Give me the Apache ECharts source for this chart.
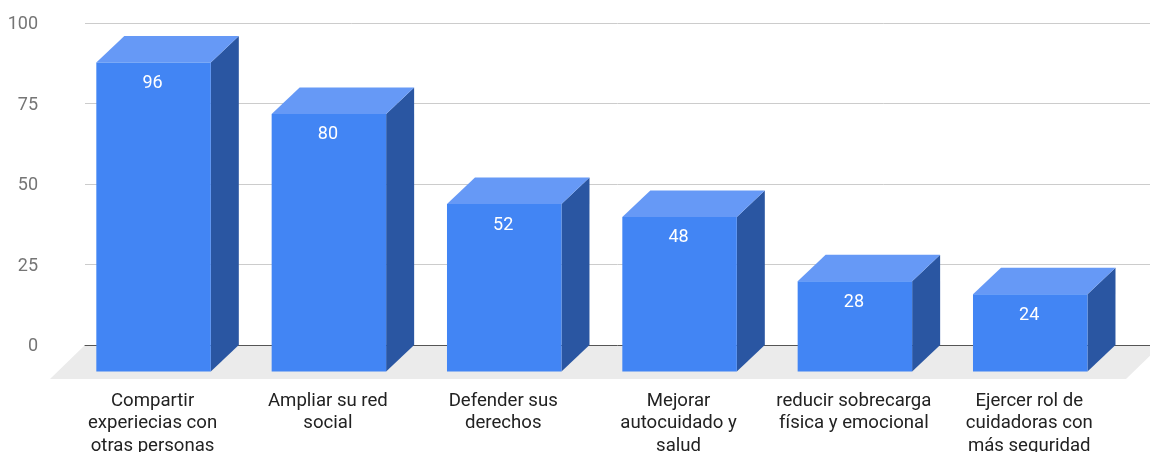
<!DOCTYPE html>
<html>
<head>
<meta charset="utf-8">
<style>html,body{margin:0;padding:0;background:#fff}#chart{width:1150px;height:452px}</style>
<script src="https://cdn.jsdelivr.net/npm/echarts@6/dist/echarts.min.js"></script>
</head>
<body>
<div id="chart"></div>
<script>
// Beneficios percibidos por las participantes
const categories = [
  'Compartir\nexperiecias con\notras personas',
  'Ampliar su red\nsocial',
  'Defender sus\nderechos',
  'Mejorar\nautocuidado y\nsalud',
  'reducir sobrecarga\nfísica y emocional',
  'Ejercer rol de\ncuidadoras con\nmás seguridad'
];
const values = [96, 80, 52, 48, 28, 24];
const yTicks = { min: 0, max: 100, interval: 25 };

// Projection of the pseudo-3D box: how far the front face sits from the back plane
const DEPTH_X = 28;
const DEPTH_Y = 26.5;
const FLOOR_DEPTH = 34;
const FLOOR_SHIFT = 35;
const FLOOR_OVERHANG = 11;
const BAR_RATIO = 0.653;

const FONT = 'Roboto, Arial, sans-serif';
const FRONT = '#4285F4';
const TOP = '#6699F6';
const SIDE = '#2A56A2';
const FLOOR = '#EBEBEB';

function renderFloor(params, api) {
  if (params.dataIndex !== 0) return null;
  const a = api.coord([0, 0]);
  const b = api.coord([1, 0]);
  return {
    type: 'polygon',
    shape: { points: [
      [a[0], a[1]],
      [b[0] + FLOOR_OVERHANG, b[1]],
      [b[0] + FLOOR_OVERHANG - FLOOR_SHIFT, b[1] + FLOOR_DEPTH],
      [a[0] - FLOOR_SHIFT, a[1] + FLOOR_DEPTH]
    ] },
    style: { fill: FLOOR }
  };
}

function renderBar(params, api) {
  const cat = api.value(0);
  const val = api.value(1);
  const top = api.coord([cat, val]);
  const base = api.coord([cat, 0]);
  const half = api.size([1, 0])[0] * BAR_RATIO / 2;
  const l = top[0] - half;
  const r = top[0] + half;
  const ft = top[1] + DEPTH_Y;   // front face top
  const fb = base[1] + DEPTH_Y;  // front face bottom
  return {
    type: 'group',
    children: [
      { type: 'polygon', shape: { points: [[r, ft], [r + DEPTH_X, top[1]], [r + DEPTH_X, base[1]], [r, fb]] }, style: { fill: SIDE } },
      { type: 'polygon', shape: { points: [[l, ft], [l + DEPTH_X, top[1]], [r + DEPTH_X, top[1]], [r, ft]] }, style: { fill: TOP } },
      { type: 'rect', shape: { x: l, y: ft, width: r - l, height: fb - ft }, style: { fill: FRONT } },
      { type: 'text', style: {
          x: top[0] - 1, y: ft + 21, text: String(val), fill: '#fff',
          font: '18px ' + FONT, textAlign: 'center', textVerticalAlign: 'middle'
      } }
    ]
  };
}

const chart = echarts.init(document.getElementById('chart'), null, { renderer: 'canvas' });
chart.setOption({
  animation: false,
  backgroundColor: '#fff',
  grid: [
    { left: 85, right: 0, top: 23, height: 322, outerBoundsMode: 'none' },
    { left: 65.9, width: 1052, top: 23, height: 322, outerBoundsMode: 'none' }
  ],
  xAxis: [
    {
      type: 'value', gridIndex: 0, min: 0, max: 1, z: 1.5,
      axisLine: { show: true, lineStyle: { color: '#555', width: 1 } },
      axisTick: { show: false }, axisLabel: { show: false }, splitLine: { show: false }
    },
    {
      type: 'category', gridIndex: 1, data: categories,
      axisLine: { show: false }, axisTick: { show: false }, splitLine: { show: false },
      axisLabel: {
        interval: 0, margin: 45, color: '#222', fontFamily: FONT, fontSize: 18.6,
        lineHeight: 22.5, align: 'center', verticalAlign: 'top', hideOverlap: false,
        padding: [0, 2, 0, 0]
      }
    }
  ],
  yAxis: [
    {
      type: 'value', gridIndex: 0, min: yTicks.min, max: yTicks.max, interval: yTicks.interval,
      axisLine: { show: false }, axisTick: { show: false },
      axisLabel: {
        margin: 47, formatter: '{tick|{value}}',
        rich: { tick: { color: '#757575', fontFamily: FONT, fontSize: 18, padding: [3, 0, 0, 0] } }
      },
      splitLine: { show: true, lineStyle: { color: '#CCCCCC', width: 1 } }
    },
    {
      type: 'value', gridIndex: 1, min: yTicks.min, max: yTicks.max, interval: yTicks.interval,
      show: false
    }
  ],
  series: [
    {
      type: 'custom', xAxisIndex: 0, yAxisIndex: 0, z: 1, clip: false, silent: true,
      renderItem: renderFloor, data: [[0, 0]]
    },
    {
      type: 'custom', xAxisIndex: 1, yAxisIndex: 1, z: 2, clip: false,
      renderItem: renderBar,
      encode: { x: 0, y: 1 },
      data: values.map((v, i) => [i, v])
    }
  ]
});
</script>
</body>
</html>
